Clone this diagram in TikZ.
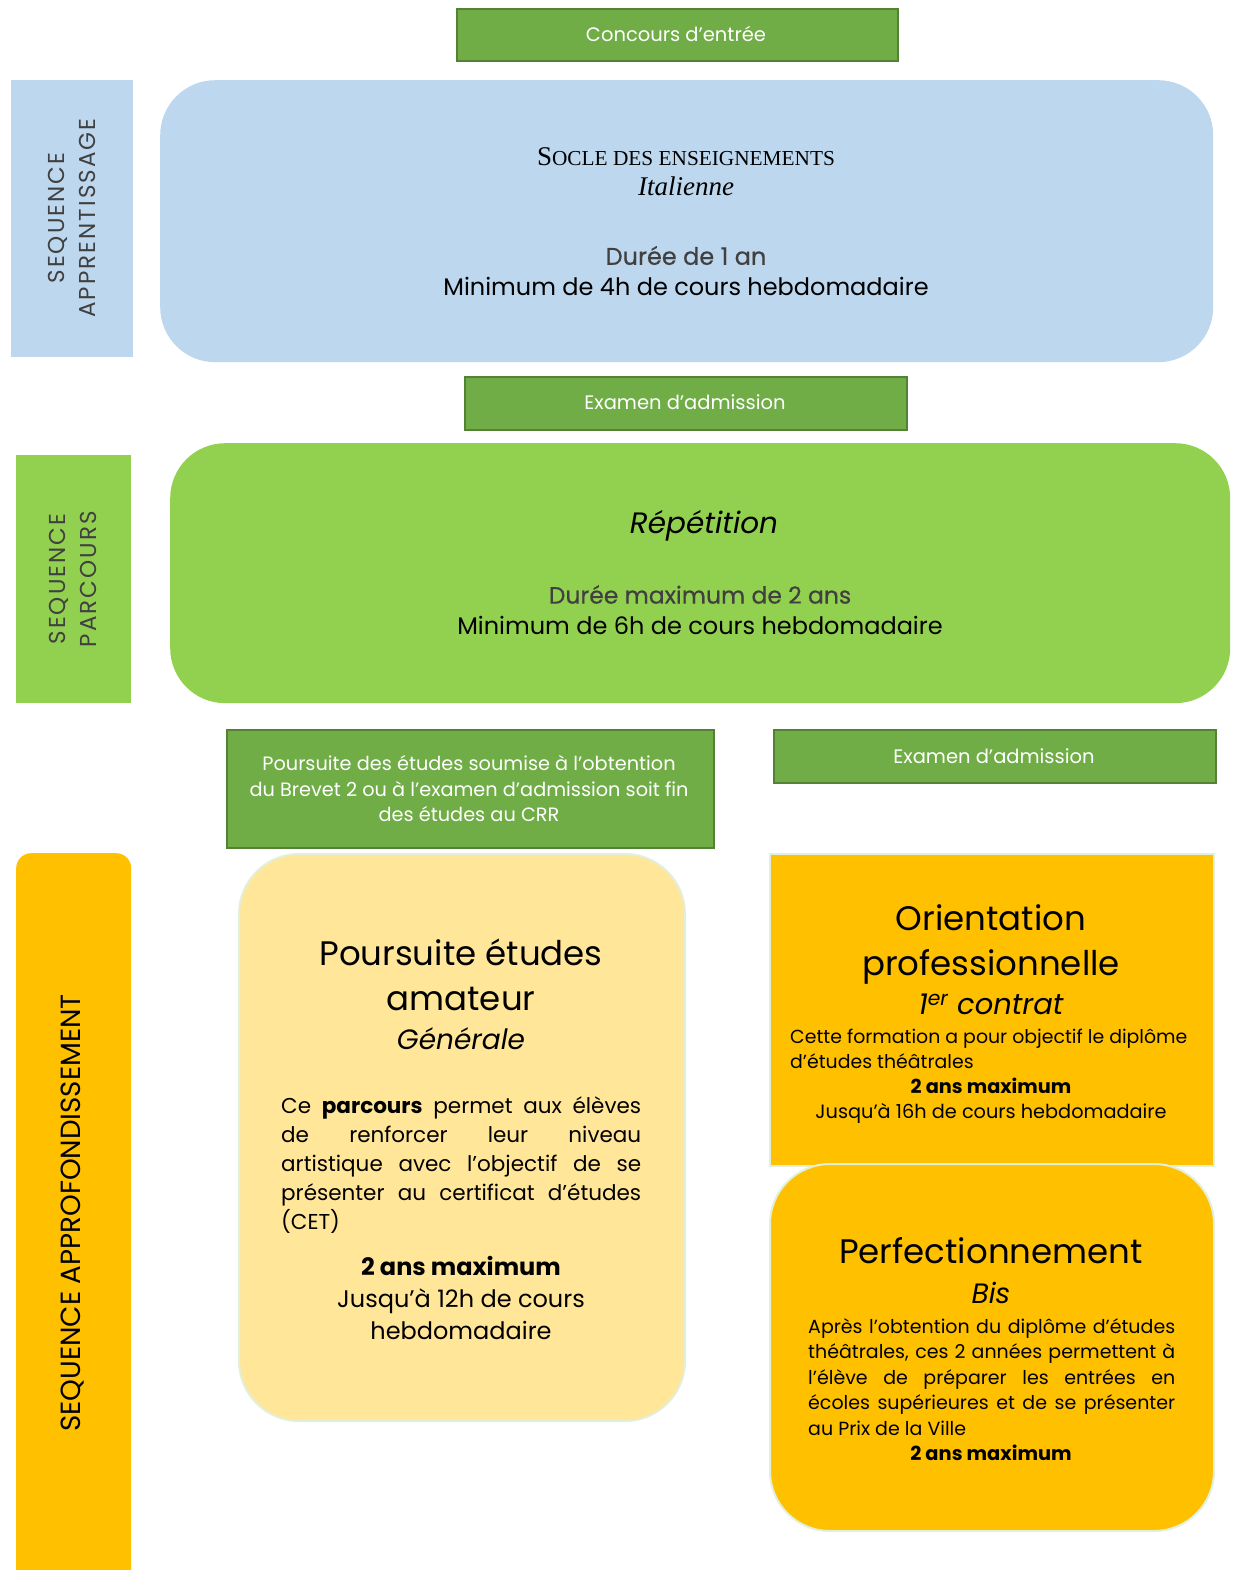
\documentclass[tikz,border=0pt]{standalone}
\usepackage{fontspec}
\setmainfont{Poppins}
\newfontfamily\serifont{Liberation Serif}
\newfontfamily\spacedfont[LetterSpace=9]{Poppins}
\newfontfamily\medfont[FakeBold=0.5]{Poppins}
\definecolor{cblue}{HTML}{BDD7EE}
\definecolor{cgreen}{HTML}{92D050}
\definecolor{cdgreen}{HTML}{70AD47}
\definecolor{cdgreenb}{HTML}{548235}
\definecolor{corange}{HTML}{FFC000}
\definecolor{cyellow}{HTML}{FFE699}
\definecolor{cpale}{HTML}{E2EFDA}
\definecolor{cgray}{HTML}{404040}
\newcommand{\fs}[2]{\fontsize{#1}{#2}\selectfont}
\tikzset{
  gbox/.style={draw=cdgreenb, line width=2pt, fill=cdgreen, inner sep=0pt, anchor=north west},
  gtext/.style={text=white, align=center, inner sep=0pt, font=\fs{19.5}{26}},
  labelbox/.style={inner sep=0pt, anchor=north west},
  bigbox/.style={inner sep=0pt, anchor=north west, rounded corners=55pt},
  ltext/.style={rotate=90, align=center, inner sep=0pt},
  body/.style={inner sep=0pt, align=center},
}
\begin{document}
\begin{tikzpicture}[x=1pt,y=-1pt]
\useasboundingbox (0,0) rectangle (1232,1570);
% top
\node[gbox, minimum width=441pt, minimum height=52pt] (concours) at (456,8) {};
\node[gtext] (concourst) at (676,34) {Concours d'entrée};
% blue
\node[labelbox, fill=cblue, minimum width=122pt, minimum height=277pt] (lblue) at (11,80) {};
\node[ltext, text=cgray, font=\spacedfont\fs{23}{31}] (lbluet) at (72,218) {SEQUENCE\\APPRENTISSAGE};
\node[bigbox, fill=cblue, minimum width=1053pt, minimum height=282pt] (socle) at (160,80) {};
\node[body, font=\serifont\fs{27}{30}] (soclet) at (686,172) {S{\fs{21.3}{30}OCLE DES ENSEIGNEMENTS}\\\textit{Italienne}};
\node[body, font=\fs{24}{31}] (socled) at (686,271) {\textcolor{cgray}{\medfont Durée de 1 an}\\Minimum de 4h de cours hebdomadaire};
% examen 1
\node[gbox, minimum width=442pt, minimum height=53pt] (exam1) at (464,376) {};
\node[gtext] (exam1t) at (685,402) {Examen d'admission};
% green
\node[labelbox, fill=cgreen, minimum width=115pt, minimum height=248pt] (lgreen) at (16,455) {};
\node[ltext, text=cgray, font=\spacedfont\fs{23}{31}] (lgreent) at (73,579) {SEQUENCE\\PARCOURS};
\node[bigbox, fill=cgreen, minimum width=1060pt, minimum height=260pt] (repet) at (170,443) {};
\node[body, font=\fs{29.5}{30}\itshape] (repett) at (704,526) {Répétition};
\node[body, font=\fs{24}{31}] (repetd) at (700,610) {\textcolor{cgray}{\medfont\fs{23.5}{31}Durée maximum de 2 ans}\\Minimum de 6h de cours hebdomadaire};
% second row boxes
\node[gbox, minimum width=487pt, minimum height=118pt] (pours) at (226,729) {};
\node[gtext, font=\fs{19.3}{25.5}] (ponst) at (469,789) {Poursuite des études soumise à l'obtention\\du Brevet 2 ou à l'examen d'admission soit fin\\des études au CRR};
\node[gbox, minimum width=442pt, minimum height=53pt] (exam2) at (773,729) {};
\node[gtext] (exam2t) at (994,756) {Examen d'admission};
% orange label
\node[labelbox, fill=corange, rounded corners=15pt, minimum width=115pt, minimum height=740pt] (lorange) at (16,853) {};
\node[ltext, text=black, font=\fs{27.7}{31}] (lorangettt) at (73,1213) {SEQUENCE APPROFONDISSEMENT};
% yellow box
\node[bigbox, draw=cpale, line width=2pt, fill=cyellow, rounded corners=60pt, minimum width=446pt, minimum height=567pt] (amateur) at (238,853) {};
\node[body, font=\fs{34}{45}] (amateurt) at (461,975) {Poursuite études\\amateur};
\node[body, font=\fs{28}{30}\itshape] (amateurg) at (461,1039) {Générale};
\node[inner sep=0pt, text width=360pt, align=justify, anchor=north west, font=\fs{21.5}{29}] (amateurp) at (281,1096) {Ce \textbf{parcours} permet aux élèves\linebreak de renforcer leur niveau\linebreak artistique avec l'objectif de se\linebreak présenter au certificat d'études\linebreak (CET)};
\node[body, font=\fs{24}{32}] (amateurd) at (461,1298) {\textbf{2 ans maximum}\\Jusqu'à 12h de cours\\hebdomadaire};
% orientation
\node[labelbox, draw=cpale, line width=2pt, fill=corange, minimum width=444pt, minimum height=312pt] (orient) at (769,853) {};
\node[body, font=\fs{34}{45}] (orientt) at (991,944) {Orientation\\professionnelle};
\node[body, font=\fs{29}{30}\itshape] (orientc) at (991,1004) {1\textsuperscript{er} contrat};
\node[inner sep=0pt, align=left, anchor=north west, font=\fs{18.9}{25}] (orientp) at (790,1029) {Cette formation a pour objectif le diplôme\\d'études théâtrales};
\node[body, font=\fs{19.3}{25}] (orientd) at (991,1101) {\textbf{2 ans maximum}\\Jusqu'à 16h de cours hebdomadaire};
% perfectionnement
\node[bigbox, draw=cpale, line width=2pt, fill=corange, rounded corners=60pt, minimum width=444pt, minimum height=367pt] (perf) at (769,1163) {};
\node[body, font=\fs{34}{45}] (perft) at (991,1251) {Perfectionnement};
\node[body, font=\fs{28}{30}\itshape] (perfb) at (991,1293) {Bis};
\node[inner sep=0pt, text width=367pt, align=justify, anchor=north west, font=\fs{19}{25.5}] (perfp) at (808,1318) {Après l'obtention du diplôme d'études\linebreak théâtrales, ces 2 années permettent à\linebreak l'élève de préparer les entrées en\linebreak écoles supérieures et de se présenter\linebreak au Prix de la Ville};
\node[body, font=\fs{19.4}{25}\bfseries] (perfd) at (991,1453) {2 ans maximum};
\end{tikzpicture}
\end{document}
